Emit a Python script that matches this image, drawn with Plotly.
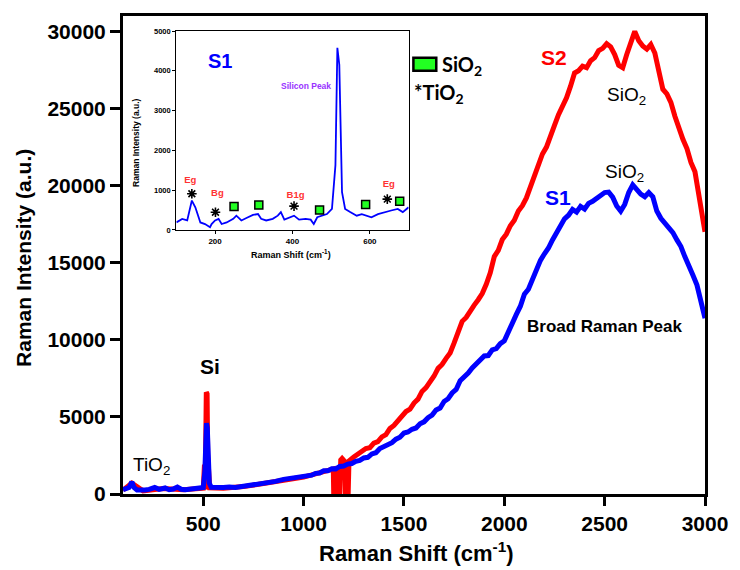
import plotly.graph_objects as go

# ---------------- data ----------------
# Main plot, sample S1 (blue)
s1_x = [100, 115, 130, 144, 155, 170, 190, 210, 230, 258, 280, 300, 310, 330, 350, 371, 390, 410, 440, 470, 490, 500,
        508, 512, 516, 520, 524, 530, 540, 570, 600, 630, 660, 700, 730, 760, 800, 830, 860, 900, 930, 960,
        1000, 1020, 1040, 1060, 1080, 1100, 1120, 1140, 1160, 1180, 1200, 1220, 1240, 1260, 1280, 1300, 1320, 1340,
        1360, 1380, 1400, 1420, 1440, 1460, 1480, 1500, 1520, 1540, 1560, 1580, 1600, 1620, 1640, 1660, 1680, 1700,
        1720, 1740, 1760, 1780, 1800, 1820, 1840, 1860, 1880, 1900, 1920, 1940, 1960, 1980, 2000, 2020, 2040, 2060,
        2080, 2100, 2120, 2140, 2160, 2180, 2200, 2220, 2240, 2260, 2280, 2300, 2320, 2340, 2360, 2380, 2400, 2420,
        2440, 2460, 2480, 2500, 2520, 2540, 2560, 2580, 2600, 2620, 2640, 2660, 2680, 2700, 2720, 2740, 2760, 2780,
        2800, 2820, 2840, 2860, 2880, 2900, 2920, 2940, 2960, 2980, 3000]
s1_y = [280, 320, 420, 780, 420, 260, 220, 260, 300, 420, 300, 330, 390, 280, 320, 450, 310, 280, 300, 320, 380, 420,
        1500, 3600, 4600, 4300, 2000, 700, 430, 400, 420, 460, 430, 500, 560, 600, 700, 720, 820, 950, 1000, 1120,
        1150, 1230, 1220, 1340, 1360, 1500, 1500, 1640, 1630, 1790, 1820, 1940, 1980, 2120, 2180, 2340, 2380, 2600,
        2680, 2950, 3080, 3230, 3330, 3560, 3680, 3950, 4020, 4200, 4280, 4550, 4680, 4950, 5120, 5450, 5580, 6000,
        6180, 6550, 6780, 7350, 7580, 7850, 8180, 8450, 8680, 8950, 8980, 9350, 9430, 9750, 9930, 10550, 10980, 11650,
        12180, 12950, 13280, 13950, 14480, 15150, 15580, 15950, 16480, 16950, 17380, 17850, 18080, 18450, 18280, 18650,
        18480, 18850, 18980, 19150, 19380, 19550, 19580, 19250, 18680, 18350, 18780, 19550, 20050, 19680, 19450, 19280,
        19550, 19280, 18350, 17880, 17550, 17180, 16950, 16480, 16050, 15380, 14850, 14180, 13550, 12580, 11400]

# Main plot, sample S2 (red)
s2_x = [100, 144, 200, 300, 400, 500, 506, 509, 512, 515, 519, 522, 526, 532, 600, 700, 800, 900, 1000, 1100,
        1148, 1150, 1153, 1158, 1161, 1170, 1172, 1180, 1185, 1192, 1200, 1206, 1208, 1212, 1214, 1222, 1226,
        1250, 1270, 1290, 1310, 1330, 1350, 1370, 1390, 1410, 1430, 1450, 1470, 1490, 1510, 1530, 1550, 1570, 1590,
        1610, 1630, 1650, 1670, 1690, 1710, 1730, 1750, 1770, 1790, 1810, 1830, 1850, 1870, 1890, 1910, 1930, 1950,
        1970, 1990, 2010, 2030, 2050, 2070, 2090, 2110, 2130, 2150, 2170, 2190, 2210, 2230, 2250, 2270, 2290, 2310,
        2330, 2350, 2370, 2390, 2410, 2430, 2450, 2470, 2490, 2510, 2530, 2550, 2570, 2590, 2610, 2630, 2650, 2670,
        2690, 2710, 2730, 2750, 2770, 2790, 2810, 2830, 2850, 2870, 2890, 2910, 2930, 2950, 2970, 2990, 3000]
s2_y = [250, 700, 200, 350, 280, 380, 1900, 300, 3000, 6600, 6500, 2500, 600, 400, 380, 480, 680, 920, 1100, 1450,
        1620, 0, 1650, 0, 1700, 0, 1750, 0, 2200, 2300, 2150, 2100, 0, 2000, 0, 0, 2150,
        2400, 2600, 2700, 2950, 3000, 3300, 3400, 3700, 3850, 4250, 4450, 4750, 5000, 5350, 5500, 5900, 6150, 6650,
        6900, 7250, 7650, 8150, 8400, 8800, 9150, 9800, 10500, 11200, 11450, 11900, 12250, 12600, 13000, 13600, 14350,
        15400, 15800, 16500, 16850, 17400, 17750, 18350, 18700, 19200, 19900, 20650, 21300, 22050, 22500, 23300, 23900,
        24600, 25100, 25700, 26450, 27300, 27450, 27750, 27650, 28100, 28300, 28750, 28900, 29200, 29000, 28500, 27800,
        27650, 28500, 29350, 30000, 29400, 29050, 28850, 29150, 28600, 27500, 26250, 25950, 25400, 24500, 23700, 23000,
        22400, 21500, 20900, 19500, 18000, 17000]

# Inset, S1 low-wavenumber spectrum
in_x = [100, 115, 128, 136, 140, 149, 162, 174, 187, 191, 200, 209, 217, 230, 247, 255, 268, 281, 298, 311, 319, 332,
        349, 362, 370, 379, 391, 404, 417, 434, 447, 455, 464, 477, 489, 502, 511, 516, 521, 528, 536, 549, 566, 579,
        591, 604, 621, 638, 655, 672, 685, 700]
in_y = [190, 280, 240, 530, 740, 570, 190, 150, 70, 150, 240, 280, 150, 190, 280, 360, 240, 300, 380, 400, 280, 240,
        280, 360, 450, 260, 300, 360, 260, 280, 260, 150, 320, 360, 400, 530, 1630, 4580, 4150, 950, 530, 450, 360, 400,
        360, 320, 400, 450, 490, 530, 450, 570]

# Inset markers
sio2_sq_x = [249, 313, 470, 589, 677]
sio2_sq_y = [590, 630, 505, 640, 725]
tio2_star_x = [140, 201, 404, 645]
tio2_star_y = [910, 447, 600, 775]
mode_labels = ["Eg", "Bg", "B1g", "Eg"]
mode_x = [136, 206, 408, 649]
mode_y = [1250, 910, 870, 1140]

x_ticks_main = [500, 1000, 1500, 2000, 2500, 3000]
y_ticks_main = [0, 5000, 10000, 15000, 20000, 25000, 30000]
y_tick_text = ["0", "5000", "10000", "15000", "20000", "25000", "30000"]
x_ticks_inset = [200, 400, 600]
y_ticks_inset = [0, 1000, 2000, 3000, 4000, 5000]

# ---------------- figure ----------------
FONT = "Liberation Sans, Arial, sans-serif"
GREEN = "#22ff22"
fig = go.Figure()

fig.add_trace(go.Scatter(x=s2_x, y=s2_y, mode="lines", line=dict(color="#ff0000", width=5),
                         showlegend=False, xaxis="x", yaxis="y"))
fig.add_trace(go.Scatter(x=s1_x, y=s1_y, mode="lines", line=dict(color="#0000ff", width=5),
                         showlegend=False, xaxis="x", yaxis="y"))

fig.add_trace(go.Scatter(x=in_x, y=in_y, mode="lines", line=dict(color="#0000ff", width=1.8),
                         showlegend=False, xaxis="x2", yaxis="y2"))
fig.add_trace(go.Scatter(x=sio2_sq_x, y=sio2_sq_y, mode="markers",
                         marker=dict(symbol="square", size=8, color=GREEN, line=dict(color="black", width=1.5)),
                         showlegend=False, xaxis="x2", yaxis="y2"))
fig.add_trace(go.Scatter(x=tio2_star_x, y=tio2_star_y, mode="markers",
                         marker=dict(symbol="asterisk-open", size=8, color="black",
                                     line=dict(color="black", width=1.6)),
                         showlegend=False, xaxis="x2", yaxis="y2"))
fig.add_trace(go.Scatter(x=mode_x, y=mode_y, mode="text", text=mode_labels,
                         textfont=dict(family=FONT, size=9.5, color="#ff3333", weight="bold"),
                         showlegend=False, xaxis="x2", yaxis="y2"))

axis_common = dict(showline=True, linecolor="black", mirror=True, showgrid=False, zeroline=False,
                   ticks="outside", tickcolor="black")

fig.update_layout(
    width=740, height=570,
    margin=dict(l=123, r=28, t=16, b=76),
    paper_bgcolor="white", plot_bgcolor="white",
    xaxis=dict(**axis_common, range=[100, 3000], tickvals=x_ticks_main, linewidth=3, ticklen=9, tickwidth=2.5,
               tickfont=dict(family=FONT, size=21, color="black", weight="bold"), domain=[0, 1], anchor="y"),
    yaxis=dict(**axis_common, range=[0, 31000], tickvals=y_ticks_main, ticktext=y_tick_text, linewidth=3,
               ticklen=10, tickwidth=2.5,
               tickfont=dict(family=FONT, size=21, color="black", weight="bold"), domain=[0, 1], anchor="x"),
    xaxis2=dict(**axis_common, range=[100, 700], tickvals=x_ticks_inset, linewidth=1.3, ticklen=3, tickwidth=1,
                tickfont=dict(family=FONT, size=8, color="black", weight="bold"),
                domain=[0.0917, 0.4907], anchor="y2"),
    yaxis2=dict(**axis_common, range=[0, 5000], tickvals=y_ticks_inset, linewidth=1.3, ticklen=3, tickwidth=1,
                tickfont=dict(family=FONT, size=7.5, color="black", weight="bold"),
                domain=[0.5523, 0.9686], anchor="x2"),
    shapes=[
        dict(type="rect", xref="x", yref="y", x0=1547, x1=1661, y0=27450, y1=28300,
             fillcolor=GREEN, line=dict(color="black", width=2.5)),
    ],
)

ann = []
def A(text, x, y, size, color="black", bold=False, xref="x", yref="y", xanchor="center", family=FONT, angle=0):
    ann.append(dict(text=text, x=x, y=y, xref=xref, yref=yref, showarrow=False, xanchor=xanchor, yanchor="middle",
                    textangle=angle, font=dict(family=family, size=size, color=color,
                                               weight="bold" if bold else "normal")))

# axis titles
A("Raman Intensity (a.u.)", -0.170, 0.494, 21, bold=True, xref="paper", yref="paper", angle=-90)
A("Raman Shift (cm<sup>-1</sup>)", 0.504, -0.122, 22, bold=True, xref="paper", yref="paper")
# main annotations
A("S2", 2247, 28300, 21, color="#ff0000", bold=True)
A("SiO<sub>2</sub>", 2610, 25800, 19)
A("S1", 2266, 19260, 21, color="#0000ff", bold=True)
A("SiO<sub>2</sub>", 2600, 20850, 19)
A("Broad Raman Peak", 2498, 10895, 17, bold=True)
A("Si", 533, 8300, 21, bold=True)
A("TiO<sub>2</sub>", 240, 1800, 19)
# legend text
A("SiO<sub>2</sub>", 1680, 27800, 20, bold=True, xanchor="left", family="Lato, sans-serif")
A("*TiO<sub>2</sub>", 1540, 25950, 20, bold=True, xanchor="left", family="Lato, sans-serif")
# inset annotations
A("Raman Intensity (a.u.)", 0.022, 0.734, 8.5, bold=True, xref="paper", yref="paper", angle=-90)
A("Raman Shift (cm<sup>-1</sup>)", 0.289, 0.502, 9, bold=True, xref="paper", yref="paper")
A("S1", 213, 4240, 20, color="#0000ff", bold=True, xref="x2", yref="y2")
A("Silicon Peak", 434, 3610, 8.5, color="#9933ff", bold=True, xref="x2", yref="y2")

fig.update_layout(annotations=ann)
fig.write_html("out.html")
